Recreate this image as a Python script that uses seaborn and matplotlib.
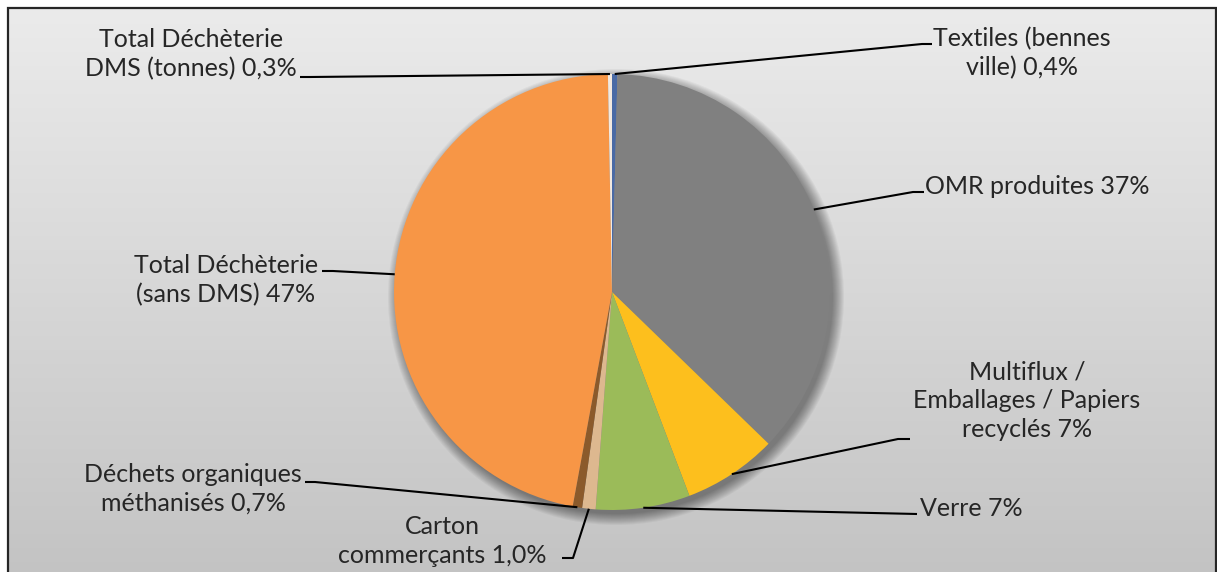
import numpy as np
import matplotlib
matplotlib.use("Agg")
import matplotlib.pyplot as plt
import seaborn as sns
from matplotlib.patches import Circle, Rectangle

# données (sens horaire depuis midi)
categories = ["Textiles (bennes\nville)", "OMR produites",
              "Multiflux /\nEmballages / Papiers\nrecyclés", "Verre",
              "Carton\ncommerçants", "Déchets organiques\nméthanisés",
              "Total Déchèterie\n(sans DMS)", "Total Déchèterie\nDMS (tonnes)"]
values = [0.4, 37, 7, 7, 1.0, 0.7, 47, 0.3]
pct_labels = ["0,4%", "37%", "7%", "7%", "1,0%", "0,7%", "47%", "0,3%"]
colors = ["#4a6aa5", "#808080", "#fdbf1d", "#9bbb59", "#ddb88f", "#8b5a2b",
          "#f79646", "#f3e9df"]

sns.set_theme(style="white")
plt.rcParams["font.family"] = ["Lato", "DejaVu Sans"]

W, H = 1217, 572
fig = plt.figure(figsize=(W / 100, H / 100), dpi=100)
ax = fig.add_axes([0, 0, 1, 1])

def Y(y):  # pixels depuis le haut -> repère de l'axe
    return H - y

# fond dégradé + cadre
grad = np.linspace(0, 1, 256).reshape(-1, 1)
ax.imshow(grad, cmap=matplotlib.colors.LinearSegmentedColormap.from_list(
    "bg", ["#ebebeb", "#c2c2c2"]), extent=[8, 1216, -20, Y(8)],
    aspect="auto", zorder=0)
ax.add_patch(Rectangle((8, -20), 1208, Y(8) + 20, fill=False,
                       edgecolor="#262626", lw=1.6, zorder=1))

cx, cy, r = 612, Y(292), 218

# ombre douce
for k in range(12):
    ax.add_patch(Circle((cx + 4, cy - 5), r + 10 - k, color="black",
                        alpha=0.04, lw=0, zorder=2))

wedges, _ = ax.pie(values, colors=colors, startangle=90, counterclock=False,
                   center=(cx, cy), radius=r, frame=True,
                   wedgeprops=dict(linewidth=0))
for w in wedges:
    w.set_zorder(3)
ax.set_xlim(0, W)
ax.set_ylim(0, H)
ax.set_aspect("auto")
ax.axis("off")

# positions des étiquettes (centre du bloc) et coudes des lignes de rappel
text_pos = [(1022, 53), (1037, 186), (1027, 401), (971, 508),
            (442, 541), (193, 489), (226, 280), (191, 54)]
elbows = [((922, 44), (932, 44)), ((913, 192), (924, 192)),
          ((898, 439), (910, 439)), ((917, 514), (917, 514)),
          ((573, 558), (562, 558)), ((315, 482), (305, 482)),
          ((333, 271), (322, 271)), ((310, 77), (300, 77))]

for w, name, pct, (tx, ty), (e1, e2) in zip(wedges, categories, pct_labels,
                                            text_pos, elbows):
    ang = np.deg2rad((w.theta1 + w.theta2) / 2)
    ax_, ay_ = cx + r * np.cos(ang), cy + r * np.sin(ang)
    ax.plot([ax_, e1[0], e2[0]], [ay_, Y(e1[1]), Y(e2[1])],
            color="black", lw=1.5, zorder=4, solid_capstyle="butt")
    ax.text(tx, Y(ty), f"{name} {pct}", ha="center", va="center",
            multialignment="center", fontsize=18, color="#262626",
            linespacing=1.3, zorder=5)

fig.savefig("out.png", dpi=100, facecolor="white")
